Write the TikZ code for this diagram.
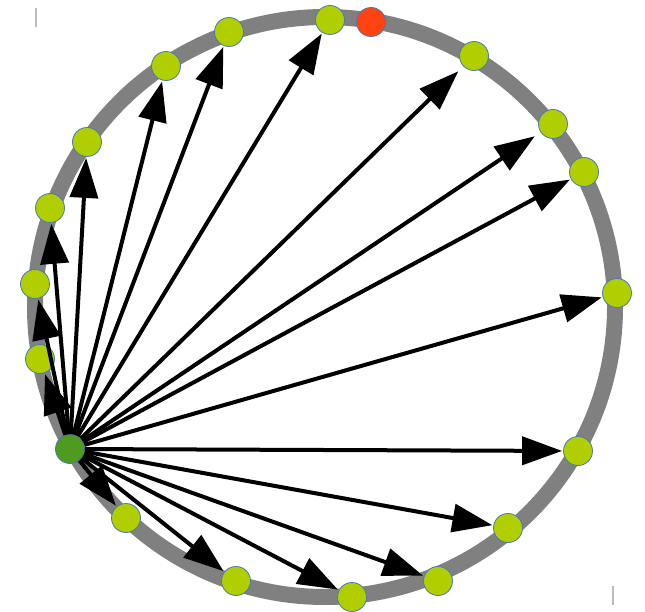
\documentclass[tikz,border=0pt]{standalone}
\usepackage{xcolor}
\usepackage{tikz}
\usetikzlibrary{arrows.meta}
\definecolor{ringgray}{HTML}{808080}
\definecolor{limegreen}{HTML}{B0CE00}
\definecolor{leafgreen}{HTML}{4F9A20}
\definecolor{hotred}{HTML}{FF4412}
\definecolor{rimblue}{HTML}{4A78B0}
\definecolor{markgray}{HTML}{BBBBBB}

\begin{document}
\begin{tikzpicture}[
  x=1pt,y=-1pt,
  ring/.style={draw=ringgray,line width=16pt},
  dot/.style={circle,draw=rimblue,line width=0.8pt,fill=limegreen,minimum size=29pt,inner sep=0pt},
  start/.style={dot,fill=leafgreen},
  goal/.style={dot,fill=hotred},
  arrow/.style={-{Triangle[length=40pt,width=28pt]},line width=4pt,color=black,shorten >=1pt},
  cropmark/.style={draw=markgray,line width=2pt}
]
\useasboundingbox (0,0) rectangle (645,612);
\draw[ring] (325,307) circle (290);
\draw[cropmark] (36,8) -- (36,27);
\draw[cropmark] (613,586) -- (613,605);

\node[dot] (v1) at (40,359) {};
\node[dot] (v2) at (35,284) {};
\node[dot] (v3) at (50,208) {};
\node[dot] (v4) at (87,142) {};
\node[dot] (v5) at (166,66) {};
\node[dot] (v6) at (229,32) {};
\node[dot] (v7) at (330,20) {};
\node[goal] (end) at (371,22) {};
\node[dot] (v8) at (474,56) {};
\node[dot] (v9) at (553,124) {};
\node[dot] (v10) at (584,172) {};
\node[dot] (v11) at (617,293) {};
\node[dot] (v12) at (578,451) {};
\node[dot] (v13) at (508,528) {};
\node[dot] (v14) at (438,581) {};
\node[dot] (v15) at (352,597) {};
\node[dot] (v16) at (236,581) {};
\node[dot] (v17) at (126,518) {};
\node[start] (src) at (70,449) {};

\draw[arrow] (src) -- (v1);
\draw[arrow] (src) -- (v2);
\draw[arrow] (src) -- (v3);
\draw[arrow] (src) -- (v4);
\draw[arrow] (src) -- (v5);
\draw[arrow] (src) -- (v6);
\draw[arrow] (src) -- (v7);
\draw[arrow,shorten >=7pt] (src) -- (v8);
\draw[arrow,shorten >=7pt] (src) -- (v9);
\draw[arrow] (src) -- (v10);
\draw[arrow] (src) -- (v11);
\draw[arrow] (src) -- (v12);
\draw[arrow] (src) -- (v13);
\draw[arrow] (src) -- (v14);
\draw[arrow] (src) -- (v15);
\draw[arrow] (src) -- (v16);
\draw[arrow] (src) -- (v17);
\end{tikzpicture}
\end{document}
